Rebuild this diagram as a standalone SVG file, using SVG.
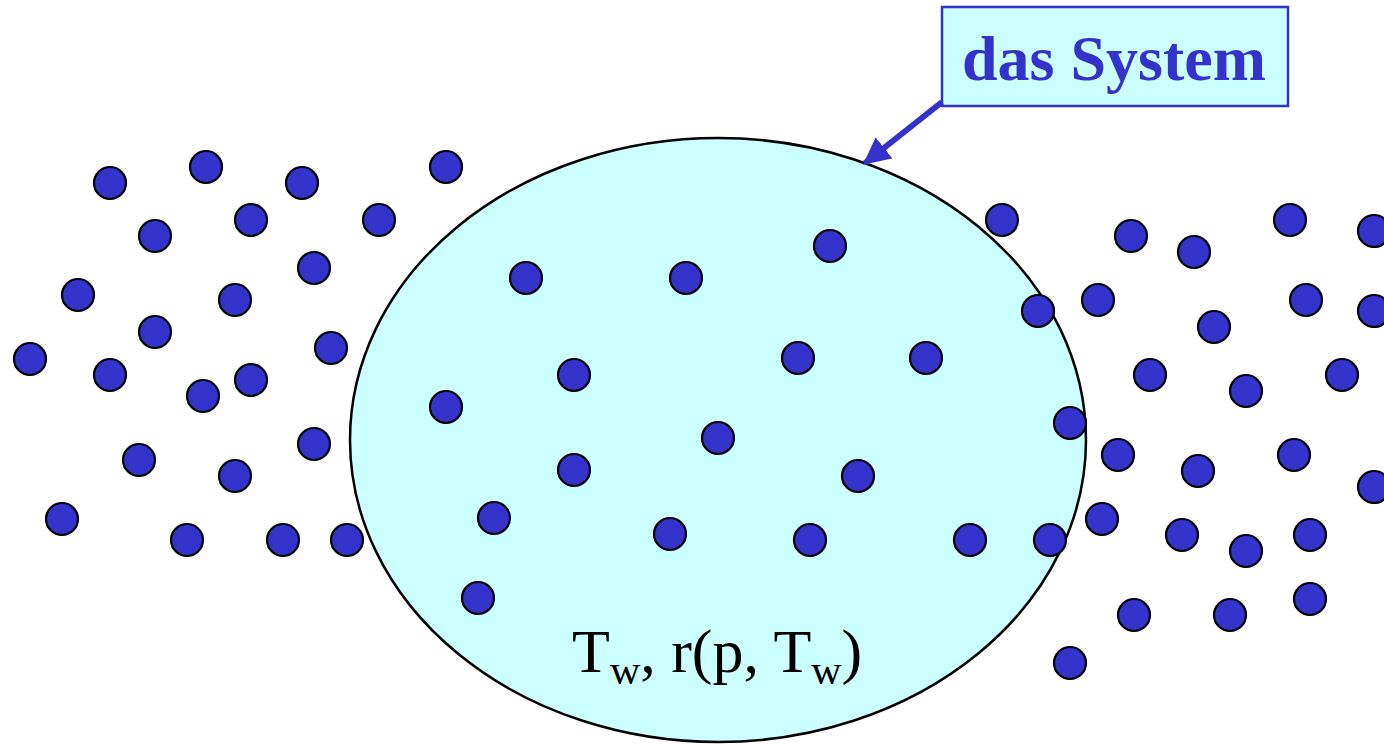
<svg xmlns="http://www.w3.org/2000/svg" width="1384" height="744" viewBox="0 0 1384 744">
<style>
.dot{fill:#3333cc;stroke:#000;stroke-width:2.2}
.lbl{font-family:"Liberation Serif","Times New Roman",serif;fill:#000}
</style>
<defs>
<marker id="ah" viewBox="0 0 10 10" refX="9" refY="5" markerWidth="4.5" markerHeight="4.5" orient="auto" markerUnits="strokeWidth">
<path d="M0,0 L10,5 L0,10 z" fill="#3333cc"/>
</marker>
</defs>
<rect width="1384" height="744" fill="#fff"/>
<g id="system">
<ellipse cx="718" cy="440" rx="368" ry="302" fill="#ccffff" stroke="#000" stroke-width="2.5"/>
<text class="lbl" x="572" y="672" font-size="62">T<tspan font-size="42" dy="12">w</tspan><tspan dy="-12">, r(p, T</tspan><tspan font-size="42" dy="12">w</tspan><tspan dy="-12">)</tspan></text>
</g>
<g id="particles">
<circle class="dot" cx="110" cy="183" r="16"/>
<circle class="dot" cx="206" cy="167" r="16"/>
<circle class="dot" cx="302" cy="183" r="16"/>
<circle class="dot" cx="446" cy="167" r="16"/>
<circle class="dot" cx="155" cy="236" r="16"/>
<circle class="dot" cx="251" cy="220" r="16"/>
<circle class="dot" cx="379" cy="220" r="16"/>
<circle class="dot" cx="314" cy="268" r="16"/>
<circle class="dot" cx="78" cy="295" r="16"/>
<circle class="dot" cx="235" cy="300" r="16"/>
<circle class="dot" cx="155" cy="332" r="16"/>
<circle class="dot" cx="331" cy="348" r="16"/>
<circle class="dot" cx="30" cy="359" r="16"/>
<circle class="dot" cx="110" cy="375" r="16"/>
<circle class="dot" cx="203" cy="396" r="16"/>
<circle class="dot" cx="251" cy="380" r="16"/>
<circle class="dot" cx="139" cy="460" r="16"/>
<circle class="dot" cx="235" cy="476" r="16"/>
<circle class="dot" cx="314" cy="444" r="16"/>
<circle class="dot" cx="62" cy="519" r="16"/>
<circle class="dot" cx="187" cy="540" r="16"/>
<circle class="dot" cx="283" cy="540" r="16"/>
<circle class="dot" cx="347" cy="540" r="16"/>
<circle class="dot" cx="526" cy="278" r="16"/>
<circle class="dot" cx="686" cy="278" r="16"/>
<circle class="dot" cx="830" cy="246" r="16"/>
<circle class="dot" cx="574" cy="375" r="16"/>
<circle class="dot" cx="798" cy="358" r="16"/>
<circle class="dot" cx="926" cy="358" r="16"/>
<circle class="dot" cx="446" cy="407" r="16"/>
<circle class="dot" cx="718" cy="438" r="16"/>
<circle class="dot" cx="574" cy="470" r="16"/>
<circle class="dot" cx="858" cy="476" r="16"/>
<circle class="dot" cx="494" cy="518" r="16"/>
<circle class="dot" cx="670" cy="534" r="16"/>
<circle class="dot" cx="810" cy="540" r="16"/>
<circle class="dot" cx="970" cy="540" r="16"/>
<circle class="dot" cx="478" cy="598" r="16"/>
<circle class="dot" cx="1002" cy="220" r="16"/>
<circle class="dot" cx="1131" cy="236" r="16"/>
<circle class="dot" cx="1194" cy="252" r="16"/>
<circle class="dot" cx="1290" cy="220" r="16"/>
<circle class="dot" cx="1374" cy="231" r="16"/>
<circle class="dot" cx="1038" cy="311" r="16"/>
<circle class="dot" cx="1098" cy="300" r="16"/>
<circle class="dot" cx="1214" cy="327" r="16"/>
<circle class="dot" cx="1306" cy="300" r="16"/>
<circle class="dot" cx="1374" cy="311" r="16"/>
<circle class="dot" cx="1150" cy="375" r="16"/>
<circle class="dot" cx="1246" cy="391" r="16"/>
<circle class="dot" cx="1342" cy="375" r="16"/>
<circle class="dot" cx="1070" cy="423" r="16"/>
<circle class="dot" cx="1118" cy="455" r="16"/>
<circle class="dot" cx="1198" cy="471" r="16"/>
<circle class="dot" cx="1294" cy="455" r="16"/>
<circle class="dot" cx="1374" cy="487" r="16"/>
<circle class="dot" cx="1102" cy="519" r="16"/>
<circle class="dot" cx="1182" cy="535" r="16"/>
<circle class="dot" cx="1246" cy="551" r="16"/>
<circle class="dot" cx="1310" cy="535" r="16"/>
<circle class="dot" cx="1050" cy="540" r="16"/>
<circle class="dot" cx="1134" cy="615" r="16"/>
<circle class="dot" cx="1230" cy="615" r="16"/>
<circle class="dot" cx="1310" cy="599" r="16"/>
<circle class="dot" cx="1070" cy="663" r="16"/>
</g>
<g id="callout">
<rect x="942" y="7" width="346" height="99" fill="#ccffff" stroke="#3333cc" stroke-width="2.5"/>
<text x="1114" y="80" font-family="'Liberation Serif','Times New Roman',serif" font-weight="bold" font-size="64" fill="#3333cc" text-anchor="middle">das System</text>
</g>
<g id="connectors">
<line x1="942" y1="102" x2="865" y2="163" stroke="#3333cc" stroke-width="6" marker-end="url(#ah)"/>
</g>
</svg>
